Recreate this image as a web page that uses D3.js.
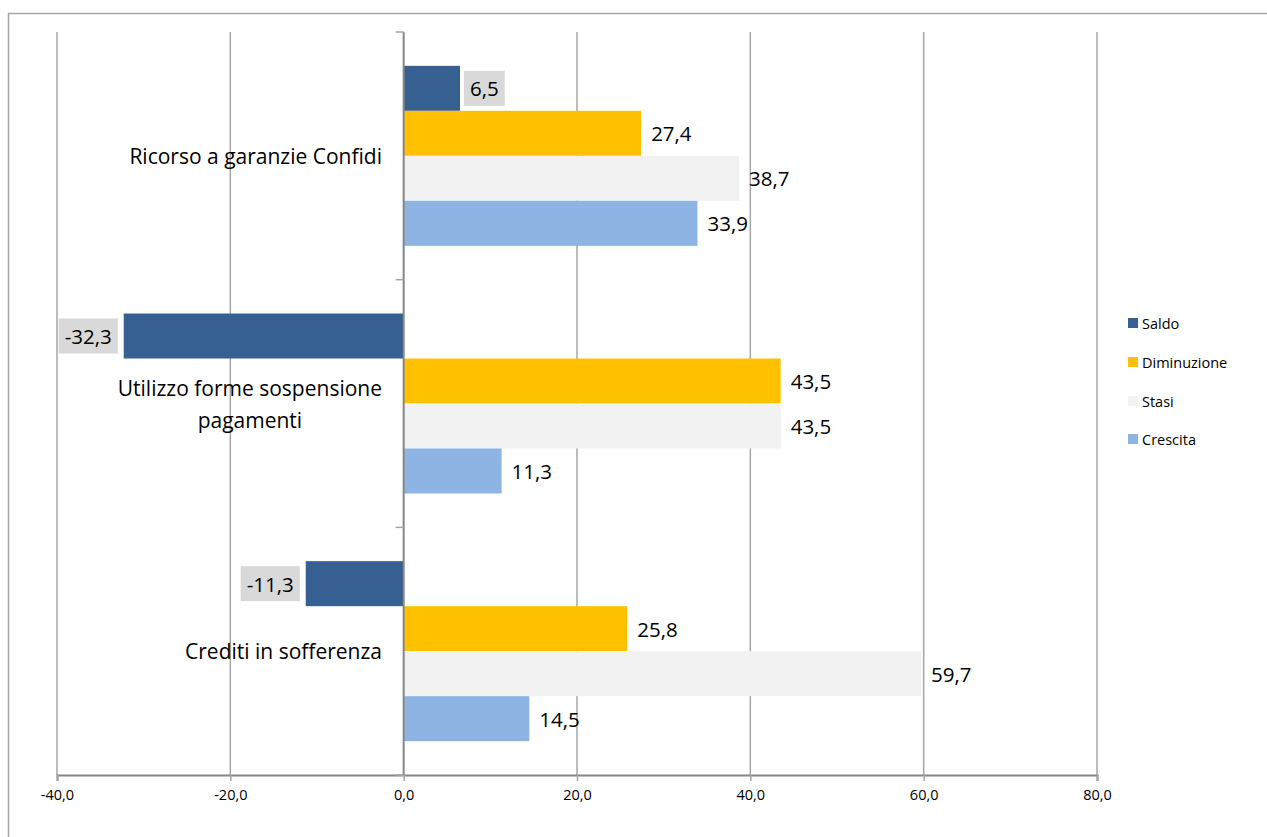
<!DOCTYPE html>
<html>
<head>
<meta charset="utf-8">
<script src="https://cdn.jsdelivr.net/npm/d3@7"></script>
<style>
  html, body { margin: 0; padding: 0; background: #fff; }
  svg { display: block; font-family: "Open Sans", Lato, sans-serif; }
</style>
</head>
<body>
<svg id="chart" width="1267" height="837"></svg>
<script>
// Categories (top to bottom) and series
const categories = [
  "Ricorso a garanzie Confidi",
  "Utilizzo forme sospensione pagamenti",
  "Crediti in sofferenza"
];
const categoryLines = [
  ["Ricorso a garanzie Confidi"],
  ["Utilizzo forme sospensione", "pagamenti"],
  ["Crediti in sofferenza"]
];
const seriesNames = ["Saldo", "Diminuzione", "Stasi", "Crescita"];
const saldo       = [6.5, -32.3, -11.3];
const diminuzione = [27.4, 43.5, 25.8];
const stasi       = [38.7, 43.5, 59.7];
const crescita    = [33.9, 11.3, 14.5];
const xTicks = [-40, -20, 0, 20, 40, 60, 80];

const seriesValues = [saldo, diminuzione, stasi, crescita];
const colors = ["#366092", "#FFC000", "#F2F2F2", "#8EB4E3"];

const svg = d3.select("#chart");
const fmt = v => d3.format(".1f")(v).replace(".", ",").replace("\u2212", "-");
const FONT = "'Open Sans', Lato, sans-serif";
const LABEL_SIZE = 20.5;

// Outer chart frame
svg.append("rect")
  .attr("x", 8.5).attr("y", 13.5)
  .attr("width", 1300).attr("height", 900)
  .attr("fill", "none").attr("stroke", "#A6A6A6").attr("stroke-width", 1.5);

const plot = { left: 57, right: 1097, top: 32, bottom: 775 };

const x = d3.scaleLinear().domain([-40, 80]).range([plot.left, plot.right]);
const y = d3.scaleBand().domain(categories).range([plot.top, plot.bottom]).padding(0);
const ySub = d3.scaleBand().domain(seriesNames).range([0, y.bandwidth()])
  .paddingInner(0).paddingOuter(0.752);

// Vertical gridlines
svg.append("g").selectAll("line")
  .data(xTicks.filter(t => t !== 0))
  .join("line")
  .attr("x1", d => x(d)).attr("x2", d => x(d))
  .attr("y1", plot.top).attr("y2", plot.bottom)
  .attr("stroke", "#A6A6A6").attr("stroke-width", 1.5);

// Bottom value axis
const xAxis = d3.axisBottom(x).tickValues(xTicks).tickFormat(fmt).tickSize(6).tickPadding(9);
const gx = svg.append("g").attr("transform", `translate(0,${plot.bottom})`).call(xAxis);
gx.select(".domain").attr("stroke", "#868686").attr("stroke-width", 2);
gx.selectAll(".tick line").attr("stroke", "#A6A6A6").attr("stroke-width", 1.5);
gx.selectAll(".tick text").attr("font-size", 14.5).attr("fill", "#000")
  .attr("font-family", FONT);

// Bars
const groups = svg.append("g").selectAll("g")
  .data(categories)
  .join("g")
  .attr("transform", d => `translate(0,${y(d)})`);

groups.each(function (cat, ci) {
  const g = d3.select(this);
  seriesNames.forEach((s, si) => {
    const v = seriesValues[si][ci];
    const y0 = ySub(s);
    const h = ySub.bandwidth();
    g.append("rect")
      .attr("x", Math.min(x(0), x(v)))
      .attr("y", y0)
      .attr("width", Math.abs(x(v) - x(0)))
      .attr("height", h)
      .attr("fill", colors[si]);

    const cy = y0 + h / 2;
    if (s === "Saldo") {
      // value label in a grey box
      const label = g.append("g");
      const t = label.append("text")
        .text(fmt(v))
        .attr("font-size", LABEL_SIZE)
        .attr("dominant-baseline", "central")
        .attr("y", cy);
      const w = t.node().getComputedTextLength();
      const padX = 6, boxH = 35;
      let bx;
      if (v >= 0) bx = x(v) + 4;
      else bx = x(v) - 6 - (w + 2 * padX);
      label.insert("rect", "text")
        .attr("x", bx).attr("y", cy - boxH / 2)
        .attr("width", w + 2 * padX).attr("height", boxH)
        .attr("fill", "#D9D9D9");
      t.attr("x", bx + padX);
    } else {
      g.append("text")
        .text(fmt(v))
        .attr("x", x(v) + 10)
        .attr("y", cy)
        .attr("font-size", LABEL_SIZE)
        .attr("dominant-baseline", "central");
    }
  });
});

// Category axis at zero
svg.append("line")
  .attr("x1", x(0)).attr("x2", x(0))
  .attr("y1", plot.top).attr("y2", plot.bottom)
  .attr("stroke", "#868686").attr("stroke-width", 2);
const catTicks = categories.map(c => y(c)).concat([plot.bottom]);
svg.append("g").selectAll("line")
  .data(catTicks)
  .join("line")
  .attr("x1", x(0) - 8).attr("x2", x(0))
  .attr("y1", d => d).attr("y2", d => d)
  .attr("stroke", "#A6A6A6").attr("stroke-width", 1.5);

// Category labels, right-aligned block with centered lines
categories.forEach((c, i) => {
  const lines = categoryLines[i];
  const cy = y(c) + y.bandwidth() / 2;
  const lh = 32;
  const g = svg.append("g");
  const texts = lines.map((ln, li) => g.append("text")
    .text(ln)
    .attr("font-size", 21)
    .attr("dominant-baseline", "central")
    .attr("text-anchor", "middle")
    .attr("y", cy + (li - (lines.length - 1) / 2) * lh));
  const maxW = d3.max(texts, t => t.node().getComputedTextLength());
  const rightEdge = 382;
  texts.forEach(t => t.attr("x", rightEdge - maxW / 2));
});

// Legend
const legend = svg.append("g").attr("transform", "translate(1128,0)");
const legendY = [323, 362, 401, 439];
seriesNames.forEach((s, i) => {
  legend.append("rect")
    .attr("x", 0).attr("y", legendY[i] - 5)
    .attr("width", 10).attr("height", 10)
    .attr("fill", colors[i]);
  legend.append("text")
    .text(s)
    .attr("x", 14).attr("y", legendY[i])
    .attr("font-size", 14.5)
    .attr("dominant-baseline", "central");
});
</script>
</body>
</html>
